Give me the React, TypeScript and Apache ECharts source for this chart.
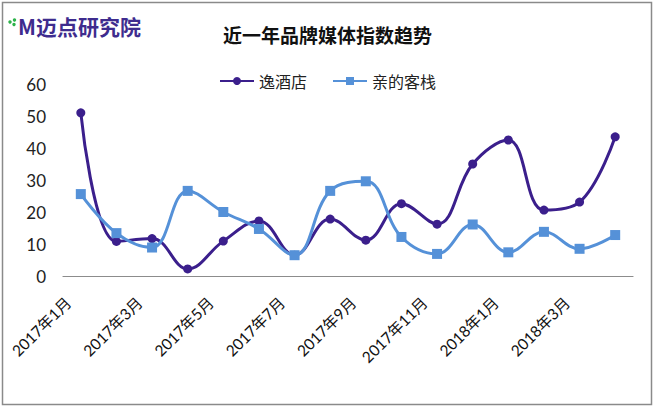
import React, { useEffect, useRef } from "react";
import * as echarts from "echarts";

const categories = [
  "2017年1月", "2017年2月", "2017年3月", "2017年4月", "2017年5月", "2017年6月",
  "2017年7月", "2017年8月", "2017年9月", "2017年10月", "2017年11月", "2017年12月",
  "2018年1月", "2018年2月", "2018年3月", "2018年4月",
];
const yiHotel = [51, 10.8, 11.7, 2.2, 10.9, 17.2, 6.5, 17.8, 11.2, 22.6, 16.2, 35, 42.5, 20.6, 23.1, 43.5];
const qinInn = [25.6, 13.4, 8.9, 26.6, 20, 14.7, 6.5, 26.6, 29.6, 12.2, 6.9, 16.1, 7.4, 13.8, 8.5, 12.8];
const seriesNames = ["逸酒店", "亲的客栈"];
const titleText = "近一年品牌媒体指数趋势";
const logoText = "M迈点研究院";

const FONT = "'Noto Sans CJK SC', 'Noto Sans', sans-serif";
const AXISFONT = "Lato, 'Noto Sans CJK SC', sans-serif";
const PURPLE = "#3B1F8C";
const BLUE = "#5591D8";

export default function App() {
  const ref = useRef<HTMLDivElement>(null);
  useEffect(() => {
    if (!ref.current) return;
    const chart = echarts.init(ref.current, undefined, { renderer: "svg" });
    chart.setOption({
      animation: false,
      backgroundColor: "#ffffff",
      textStyle: { fontFamily: FONT },
      title: {
        text: titleText,
        left: "center",
        top: 20,
        textStyle: { fontSize: 19, fontWeight: "bold", color: "#111", fontFamily: FONT },
      },
      legend: {
        top: 68,
        left: "center",
        itemWidth: 34,
        itemHeight: 10,
        itemGap: 25,
        textStyle: { fontSize: 16, color: "#222", fontFamily: FONT },
        data: seriesNames,
      },
      grid: { left: 63, right: 22, top: 84, bottom: 131, containLabel: false },
      xAxis: {
        type: "category",
        data: categories,
        boundaryGap: true,
        axisLine: { lineStyle: { color: "#8c8c8c", width: 1.2 } },
        axisTick: { show: false },
        axisLabel: {
          interval: 1,
          rotate: 45,
          margin: 11,
          padding: [0, 18, 0, 0],
          fontSize: 15.5,
          color: "#111",
          fontFamily: AXISFONT,
        },
      },
      yAxis: {
        type: "value",
        min: 0,
        max: 60,
        interval: 10,
        axisLine: { show: false },
        axisTick: { show: false },
        splitLine: { show: false },
        axisLabel: { fontSize: 17, color: "#222", margin: 17, fontFamily: AXISFONT },
      },
      series: [
        {
          name: seriesNames[0],
          type: "line",
          data: yiHotel,
          smooth: 0.4,
          symbol: "circle",
          symbolSize: 9,
          lineStyle: { color: PURPLE, width: 3 },
          itemStyle: { color: PURPLE },
          z: 2,
        },
        {
          name: seriesNames[1],
          type: "line",
          data: qinInn,
          smooth: 0.4,
          symbol: "rect",
          symbolSize: 10,
          lineStyle: { color: BLUE, width: 3 },
          itemStyle: { color: BLUE },
          z: 3,
        },
      ],
      graphic: [
        {
          type: "rect",
          shape: { x: 2.5, y: 2.5, width: 649, height: 402 },
          style: { fill: "none", stroke: "#8a8a8a", lineWidth: 1.5 },
          silent: true,
        },
        { type: "circle", shape: { cx: 10, cy: 22, r: 1.7 }, style: { fill: "#2DB34A" } },
        { type: "circle", shape: { cx: 14.5, cy: 20, r: 1.7 }, style: { fill: "#2DB34A" } },
        { type: "circle", shape: { cx: 14, cy: 24.5, r: 1.7 }, style: { fill: "#2DB34A" } },
        {
          type: "text",
          left: 18,
          top: 15,
          style: {
            text: logoText,
            fill: "#3E2C8E",
            font: `bold 21px ${FONT}`,
          },
        },
      ],
    });
    return () => chart.dispose();
  }, []);
  return (
    <div
      ref={ref}
      style={{ position: "fixed", left: 0, top: 0, width: 655, height: 407 }}
    />
  );
}
